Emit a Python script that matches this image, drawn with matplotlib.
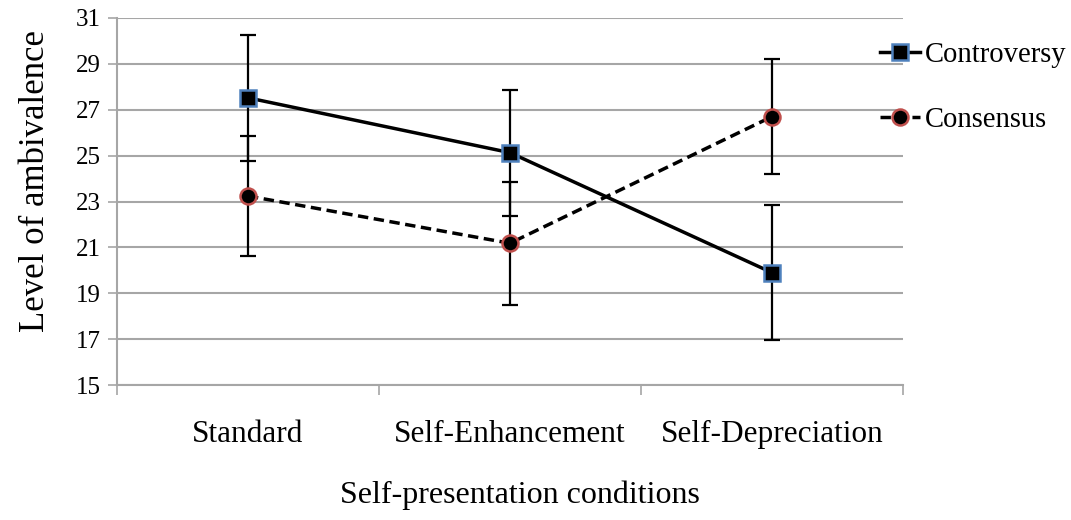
import matplotlib
matplotlib.use('Agg')
import matplotlib.pyplot as plt

plt.rcParams['font.family'] = ['Liberation Serif', 'DejaVu Serif']

# Mean ambivalence per self-presentation condition, with error bar half-widths
conditions = ['Standard', 'Self-Enhancement', 'Self-Depreciation']
controversy = [27.52, 25.13, 19.9]
controversy_err = [2.76, 2.75, 2.95]
consensus = [23.24, 21.18, 26.7]
consensus_err = [2.62, 2.68, 2.5]
y_ticks = [15, 17, 19, 21, 23, 25, 27, 29, 31]

fig = plt.figure(figsize=(10.71, 5.2), dpi=100)
ax = fig.add_axes([0.1092, 0.2596, 0.7339, 0.7058])

x = list(range(len(conditions)))
grid_col = '#a6a6a6'

ax.errorbar(x, controversy, yerr=controversy_err, fmt='none', ecolor='black',
            elinewidth=1.6, capsize=6, capthick=1.6, zorder=3)
ax.errorbar(x, consensus, yerr=consensus_err, fmt='none', ecolor='black',
            elinewidth=1.6, capsize=6, capthick=1.6, zorder=3)

ax.plot(x, controversy, color='black', linewidth=2.5, linestyle='-',
        marker='s', markersize=11, markerfacecolor='black',
        markeredgecolor='#4f81bd', markeredgewidth=1.8, label='Controversy', zorder=4)
ax.plot(x, consensus, color='black', linewidth=2.5, linestyle=(0, (3, 1.6)),
        marker='o', markersize=11.5, markerfacecolor='black',
        markeredgecolor='#c0504d', markeredgewidth=1.8, label='Consensus', zorder=4)

ax.set_xlim(-0.5, 2.5)
ax.set_ylim(15, 31)
ax.set_yticks(y_ticks)
ax.yaxis.grid(True, color=grid_col, linewidth=1.5)
ax.set_axisbelow(True)

# category boundaries get tick marks, labels sit in the middle
ax.set_xticks([-0.5, 0.5, 1.5, 2.5])
ax.set_xticklabels([])
ax.set_xticks(x, minor=True)
ax.set_xticklabels(conditions, minor=True)
ax.tick_params(axis='x', which='major', length=7, width=1.2, color=grid_col)
ax.tick_params(axis='x', which='minor', length=0, pad=25, labelsize=22.5)
ax.tick_params(axis='y', length=6.5, width=1.2, color=grid_col, labelsize=18, pad=5)

for side in ['top', 'right']:
    ax.spines[side].set_visible(False)
for side in ['left', 'bottom']:
    ax.spines[side].set_color(grid_col)
    ax.spines[side].set_linewidth(1.5)

ax.set_ylabel('Level of ambivalence', fontsize=25, va='center')
ax.yaxis.set_label_coords(-0.104, 0.556)
ax.set_xlabel('Self-presentation conditions', fontsize=23, va='center')
ax.xaxis.set_label_coords(0.513, -0.30)

fig.legend(*ax.get_legend_handles_labels(), loc='upper left',
           bbox_to_anchor=(0.8217, 0.919), frameon=False,
           fontsize=20.6, handlelength=1.4, handletextpad=0.17, labelspacing=1.35,
           borderpad=0, borderaxespad=0)

fig.savefig('out.png', dpi=100)
